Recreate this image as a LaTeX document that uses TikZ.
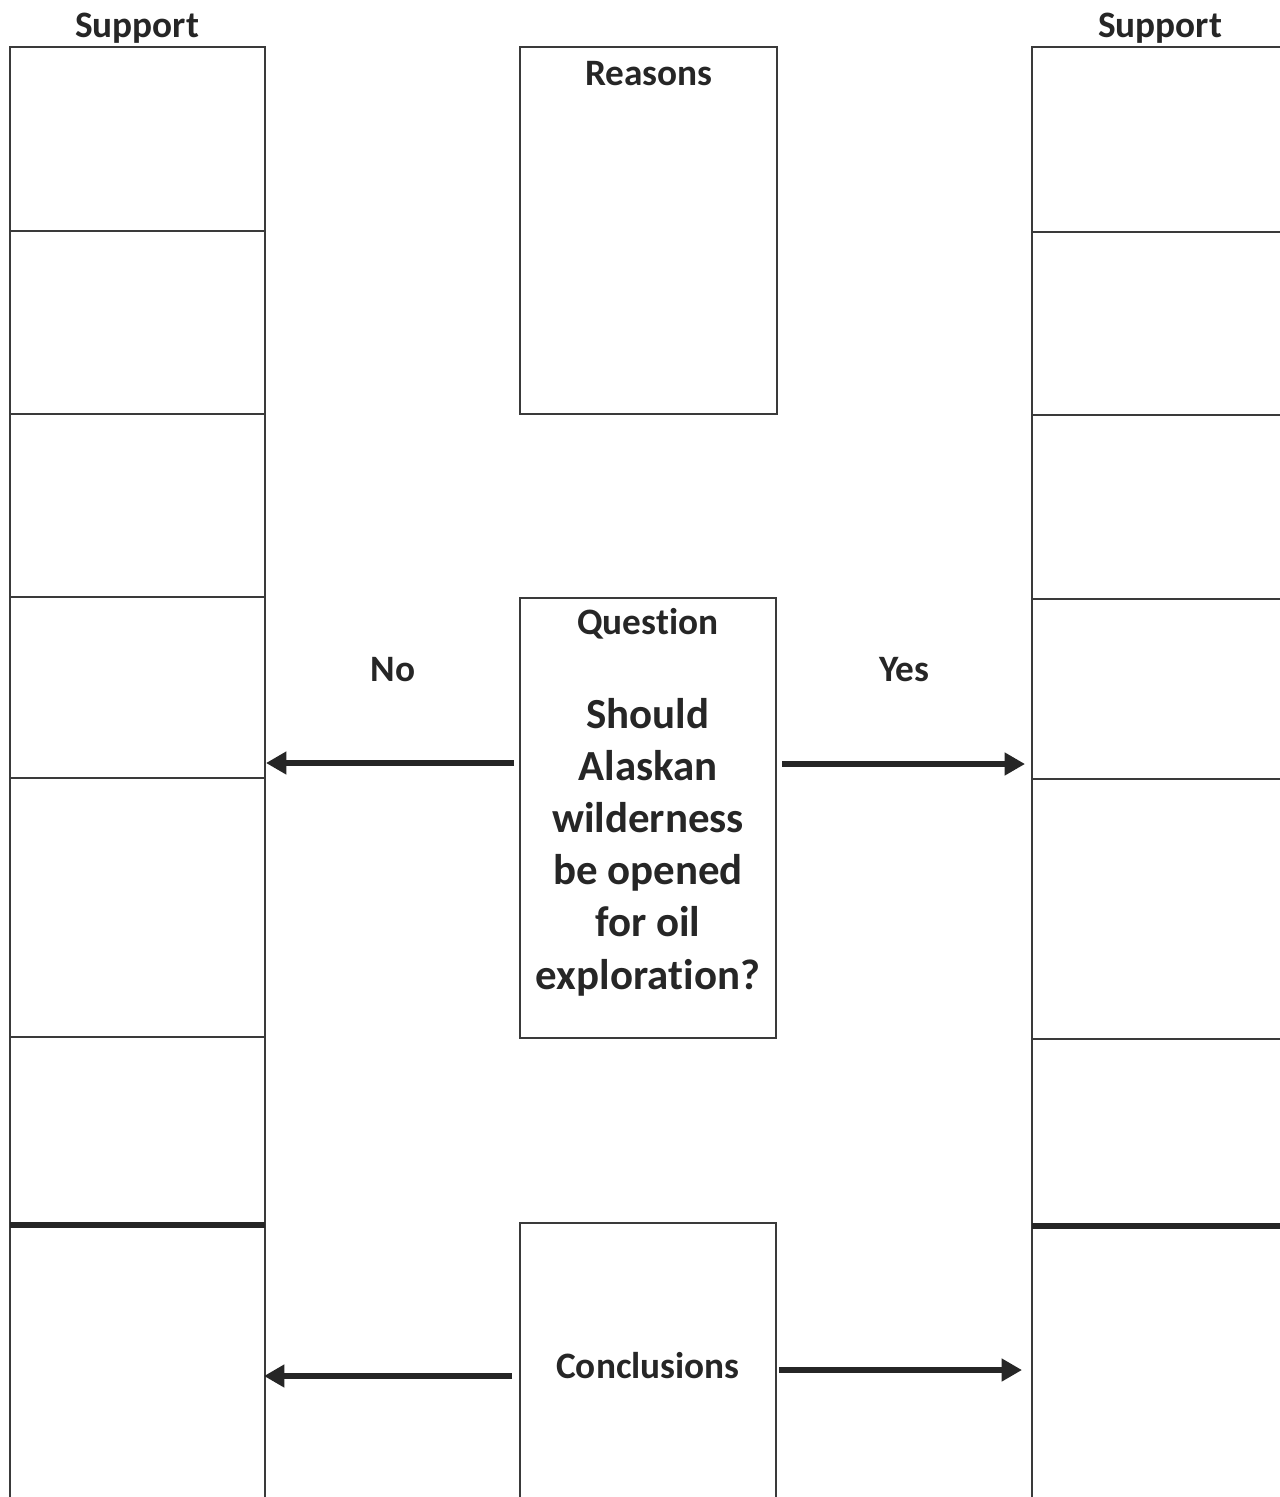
\documentclass[tikz,border=0pt]{standalone}
\usepackage{fontspec}
\setmainfont[Ligatures={NoCommon,NoRequired,NoContextual}]{Carlito}
\usetikzlibrary{arrows.meta}
\definecolor{ink}{HTML}{262626}
\definecolor{rule}{HTML}{3A3A3A}
\begin{document}
\begin{tikzpicture}[x=0.01cm,y=-0.01cm,
  lbl/.style={font=\bfseries\fontsize{10.6pt}{12pt}\selectfont, text=ink, inner sep=0pt},
  qtxt/.style={font=\bfseries\fontsize{12.2pt}{14.8pt}\selectfont, text=ink, inner sep=0pt, align=center},
  cell/.style={draw=rule, line width=0.6pt},
  thickrule/.style={draw=ink, line width=1.5pt},
  arr/.style={draw=ink, line width=1.8pt, -{Triangle[length=5.8pt,width=6.2pt]}}]
\useasboundingbox (0,0) rectangle (1280,1497);
\fill[white] (0,0) rectangle (1280,1497);
% headers
\node[lbl] (supL) at (137,28) {Support};
\node[lbl] (supR) at (1160,28) {Support};
% left column
\draw[cell] (10,1497) -- (10,47) -- (265,47) -- (265,1497);
\foreach \y in {231,414,597,778,1037} \draw[cell] (10,\y) -- (265,\y);
\draw[thickrule] (10,1225) -- (265,1225);
% right column
\draw[cell] (1032,1497) -- (1032,47) -- (1280,47);
\foreach \y in {232,415,599,779,1039} \draw[cell] (1032,\y) -- (1280,\y);
\draw[thickrule] (1032,1226) -- (1280,1226);
% center boxes
\draw[cell] (520,47) rectangle (777,414);
\node[lbl] (reasons) at (649,74) {Reasons};
\draw[cell] (520,598) rectangle (776,1038);
\node[lbl] (question) at (648,624) {Ques\kern0pt tion};
\node[qtxt, anchor=north] (qbody) at (648,698) {Should\\Alaskan\\wilderness\\be opened\\for oil\\explora\kern0pt tion?};
\draw[cell] (520,1497) -- (520,1223) -- (776,1223) -- (776,1497);
\node[lbl] (concl) at (648,1366) {Conclusions};
% labels
\node[lbl] (no) at (393,670) {No};
\node[lbl] (yes) at (904,670) {Yes};
% arrows
\coordinate (noS) at (514,763);
\coordinate (noE) at (266,763);
\coordinate (yesS) at (782,764);
\coordinate (yesE) at (1025,764);
\coordinate (cLS) at (512,1376);
\coordinate (cLE) at (264,1376);
\coordinate (cRS) at (779,1370);
\coordinate (cRE) at (1022,1370);
\draw[arr] (noS) -- (noE);
\draw[arr] (yesS) -- (yesE);
\draw[arr] (cLS) -- (cLE);
\draw[arr] (cRS) -- (cRE);
\end{tikzpicture}
\end{document}
